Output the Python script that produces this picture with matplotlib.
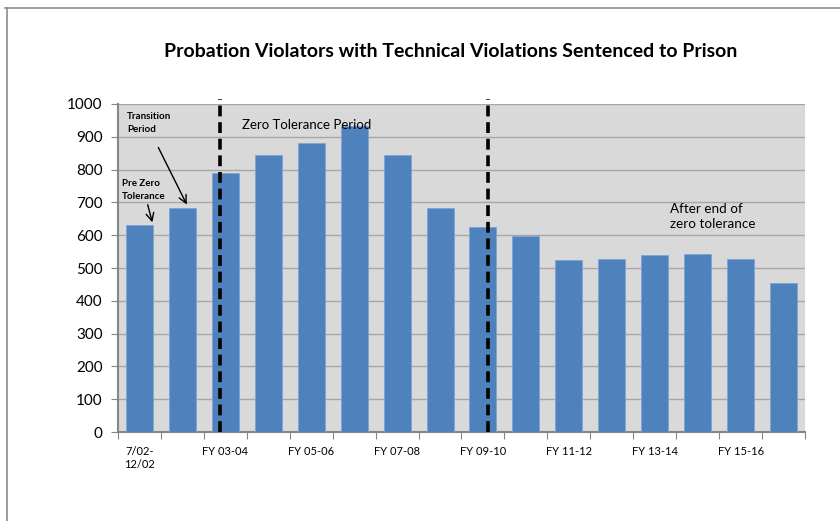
import numpy as np
import matplotlib.pyplot as plt
from matplotlib.lines import Line2D

plt.rcParams['font.family'] = ['Lato', 'DejaVu Sans']

# data
categories = ['7/02-\n12/02', '1/03-\n6/03', 'FY 03-04', 'FY 04-05', 'FY 05-06', 'FY 06-07',
              'FY 07-08', 'FY 08-09', 'FY 09-10', 'FY 10-11', 'FY 11-12', 'FY 12-13',
              'FY 13-14', 'FY 14-15', 'FY 15-16', 'FY 16-17']
values = [632, 683, 790, 845, 881, 933, 845, 683, 625, 598, 524, 527, 540, 543, 527, 454]
shown_labels = ['7/02-\n12/02', '', 'FY 03-04', '', 'FY 05-06', '', 'FY 07-08', '',
                'FY 09-10', '', 'FY 11-12', '', 'FY 13-14', '', 'FY 15-16', '']
yticks = list(range(0, 1001, 100))

fig = plt.figure(figsize=(8.4, 5.21), dpi=100)
ax = fig.add_axes([0.1405, 0.1708, 0.8178, 0.6296])
ax.set_facecolor('#D9D9D9')

x = np.arange(len(values))
ax.bar(x, values, width=0.63, color='#4F81BD', edgecolor='#7FA3D4', linewidth=0.6, zorder=3)

ax.set_xlim(-0.5, len(values) - 0.5)
ax.set_ylim(0, 1000)
ax.set_yticks(yticks)
ax.grid(axis='y', color='#A6A6A6', linewidth=1, zorder=0)
ax.tick_params(axis='y', labelsize=11, length=5, color='#868686', pad=6)

# ticks at category boundaries, labels at centres
ax.set_xticks(np.arange(len(values) + 1) - 0.5)
ax.set_xticklabels([])
ax.tick_params(axis='x', which='major', length=5, color='#868686')
ax.set_xticks(x, minor=True)
ax.set_xticklabels(shown_labels, minor=True, fontsize=8, va='top')
ax.tick_params(axis='x', which='minor', length=0, pad=10)

for s in ['top', 'right']:
    ax.spines[s].set_visible(False)
for s in ['left', 'bottom']:
    ax.spines[s].set_color('#868686')
    ax.spines[s].set_linewidth(1.5)

# period separators
for xv in [1.88, 8.12]:
    ax.plot([xv, xv], [0, 1015], color='black', linestyle=(0, (3, 1.6)), linewidth=2.6,
            zorder=5, clip_on=False)

# annotations
ax.text(2.39, 936, 'Zero Tolerance Period', fontsize=9.5, va='center', ha='left', zorder=6)
ax.text(12.36, 698, 'After end of\nzero tolerance', fontsize=9.7, va='top', ha='left',
        linespacing=1.3, zorder=6)
ax.text(-0.29, 975, 'Transition\nPeriod', fontsize=7, fontweight='bold', va='top',
        ha='left', linespacing=1.5, zorder=6)
ax.annotate('', xy=(1.13, 686), xytext=(0.41, 875),
            arrowprops=dict(arrowstyle='->', color='black', lw=1, mutation_scale=14), zorder=6)
ax.text(-0.41, 770, 'Pre Zero\nTolerance', fontsize=7, fontweight='bold', va='top',
        ha='left', linespacing=1.5, zorder=6)
ax.annotate('', xy=(0.315, 631), xytext=(0.175, 701),
            arrowprops=dict(arrowstyle='->', color='black', lw=1, mutation_scale=14), zorder=6)

fig.text(0.536, 0.902, 'Probation Violators with Technical Violations Sentenced to Prison',
         fontsize=14, fontweight='bold', ha='center', va='center')

# chart frame
fig.add_artist(Line2D([5 / 840, 1], [0.985, 0.985], color='#8C8C8C', linewidth=1.2))
fig.add_artist(Line2D([7 / 840, 7 / 840], [0, 0.985], color='#8C8C8C', linewidth=1.2))

fig.savefig('out.png', dpi=100)
